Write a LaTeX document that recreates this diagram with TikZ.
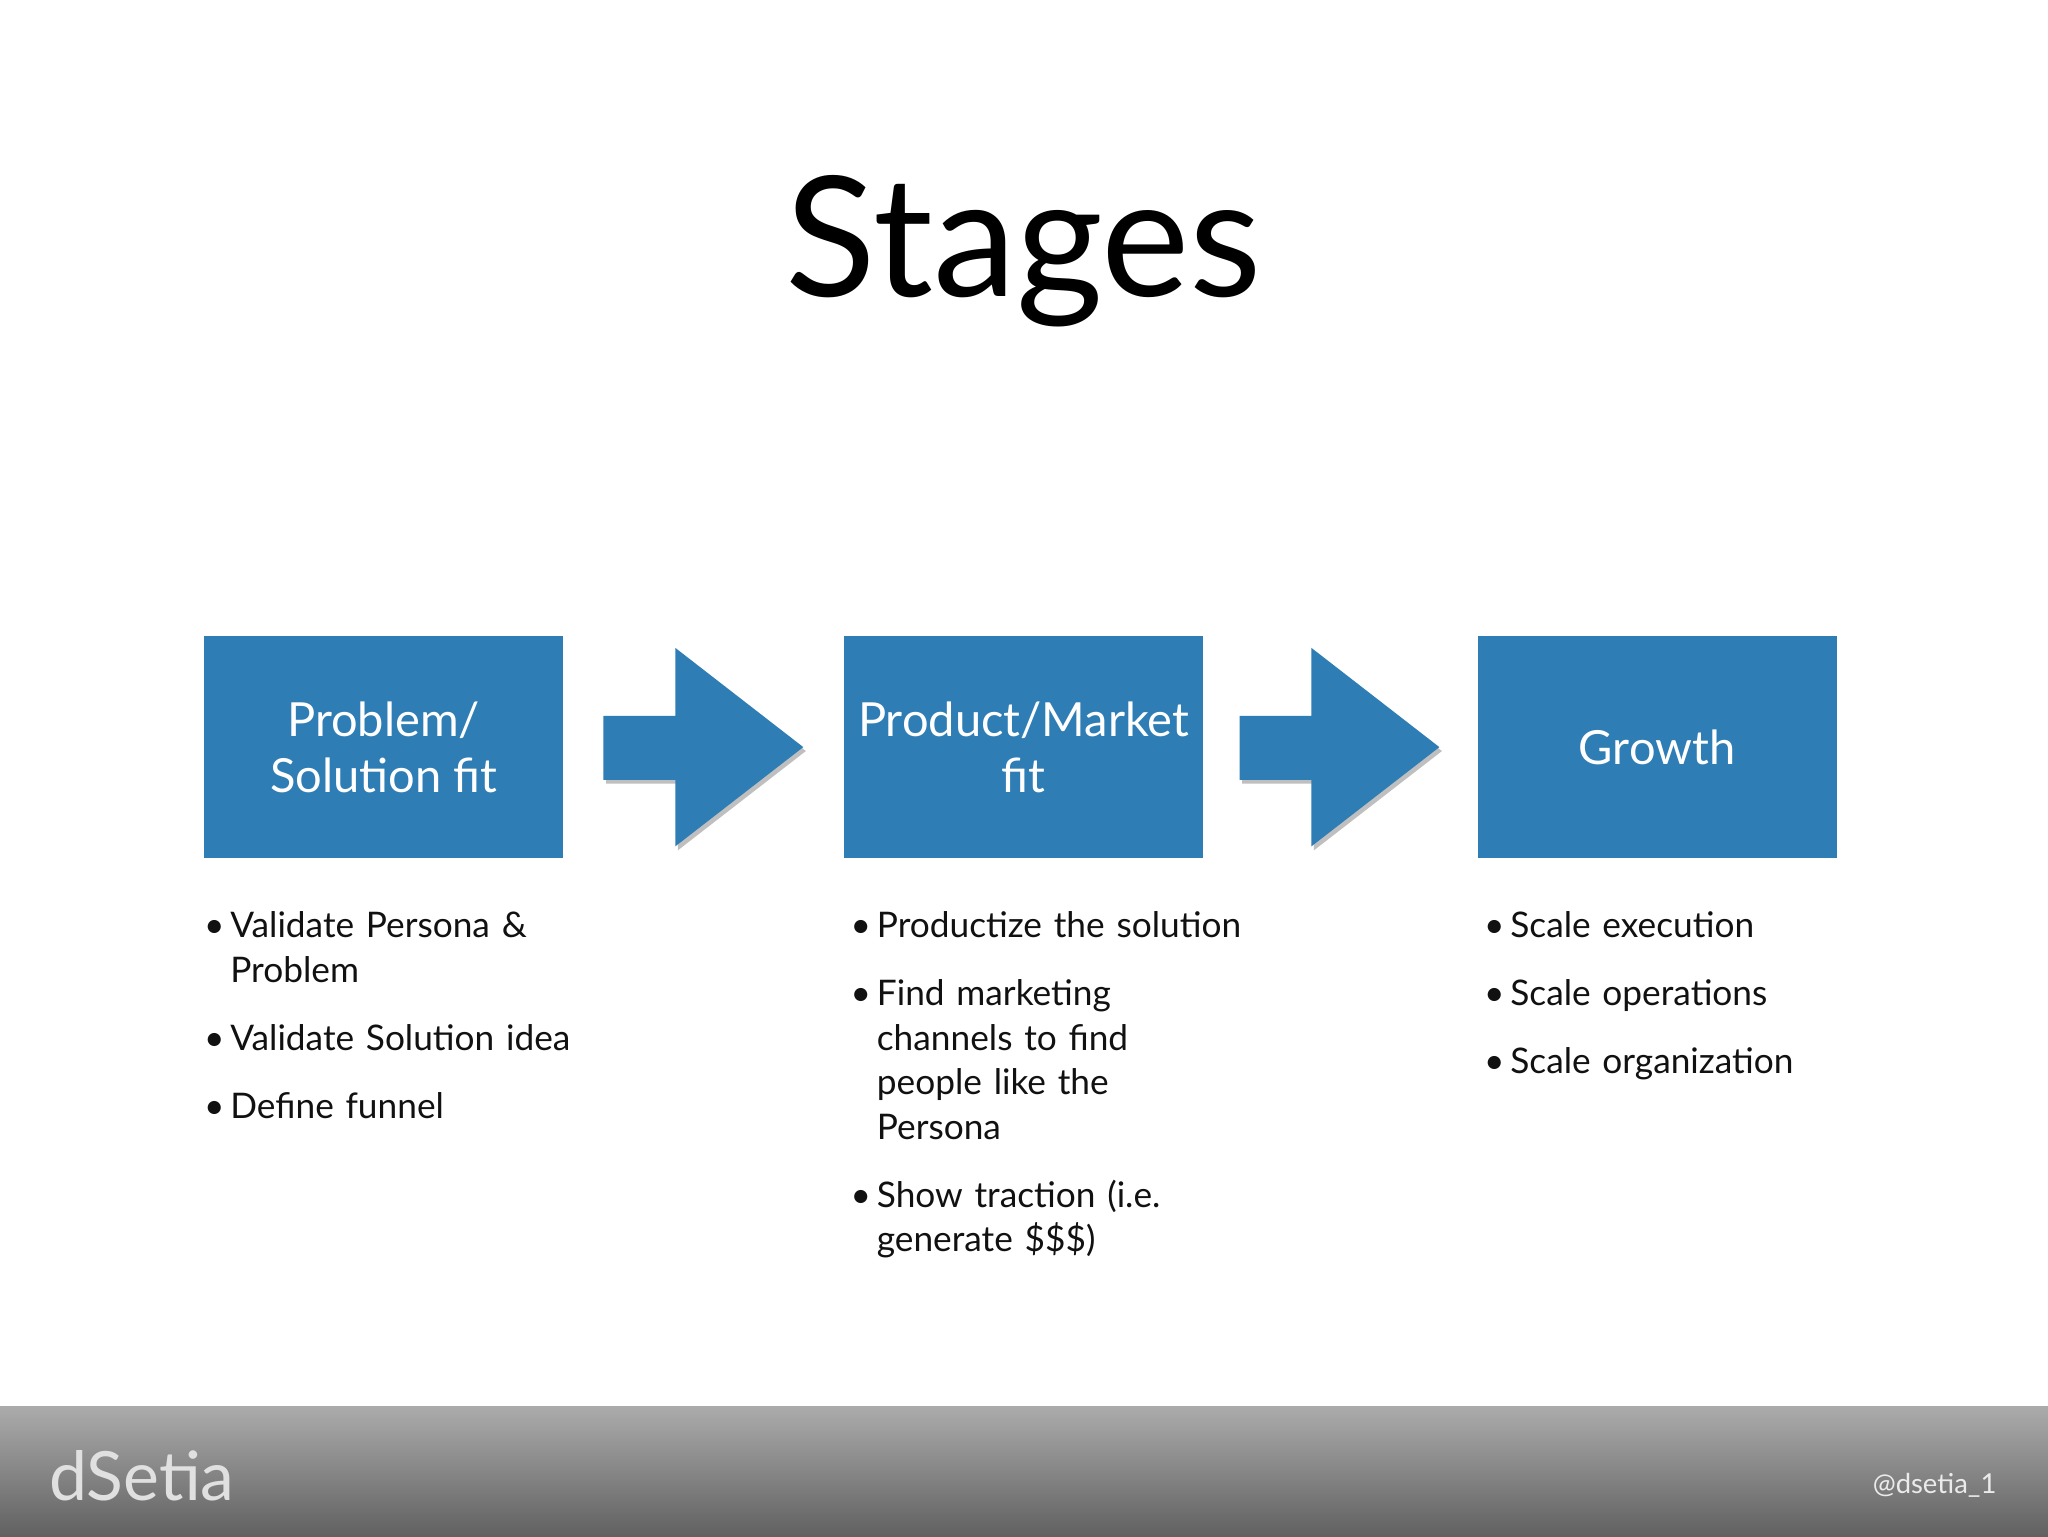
\documentclass[tikz,border=0pt]{standalone}
\usepackage{fontspec}
\setmainfont{Lato}
\usetikzlibrary{positioning}
\definecolor{boxblue}{HTML}{2F7DB5}
\definecolor{bodytext}{HTML}{111111}
\begin{document}
\begin{tikzpicture}[x=1pt,y=-1pt,
  stagebox/.style={fill=boxblue,minimum width=275pt,minimum height=170pt,anchor=north west,inner sep=0pt,
    text=white,align=center,font=\fontsize{36}{43}\selectfont},
  bul/.style={anchor=north west,inner sep=0pt,text width=400pt,align=left,text=bodytext,
    font=\fontsize{27}{34}\selectfont},
  flow/.style={fill=boxblue}]
\useasboundingbox (0,0) rectangle (1568,1176);
\fill[white] (0,0) rectangle (1568,1176);
\node[font=\fontsize{128}{130}\selectfont] (title) at (784,192) {Stages};
\node[stagebox] (b1) at (156,487) {Problem/\\Solution fit};
\node[stagebox] (b2) at (646,487) {Product/Market\\fit};
\node[stagebox] (b3) at (1131,487) {Growth};
% arrows
\foreach \s/\n in {462/a1,949/a2}{
  \fill[black!25,xshift=2pt,yshift=-3pt] (\s,548) -- (\s+55,548) -- (\s+55,496) -- (\s+153,572) -- (\s+55,648) -- (\s+55,597) -- (\s,597) -- cycle;
  \fill[flow] (\s,548) -- (\s+55,548) -- (\s+55,496) -- (\s+153,572) -- (\s+55,648) -- (\s+55,597) -- (\s,597) -- cycle;
}
% bullets column 1
\node[bul] (p1) at (156,698) {•\,\parbox[t]{300pt}{Validate Persona \&\\Problem}};
\node[bul] (p2) at (156,784) {•\,Validate Solution idea};
\node[bul] (p3) at (156,836) {•\,Define funnel};
% column 2
\node[bul] (q1) at (651,698) {•\,Productize the solution};
\node[bul] (q2) at (651,750) {•\,\parbox[t]{300pt}{Find marketing\\channels to find\\people like the\\Persona}};
\node[bul] (q3) at (651,903) {•\,\parbox[t]{300pt}{Show traction (i.e.\\generate \$\$\$)}};
% column 3
\node[bul] (r1) at (1136,698) {•\,Scale execution};
\node[bul] (r2) at (1136,750) {•\,Scale operations};
\node[bul] (r3) at (1136,802) {•\,Scale organization};
% footer
\shade[top color=black!33,bottom color=black!62] (0,1077) rectangle (1568,1176);
\node[anchor=west,text=white!88!black,font=\fontsize{52}{54}\selectfont] (logo) at (34,1130) {dSetia};
\node[anchor=east,text=white!92!black,font=\fontsize{21}{24}\selectfont] (handle) at (1532,1137) {@dsetia\_1};
\end{tikzpicture}
\end{document}
